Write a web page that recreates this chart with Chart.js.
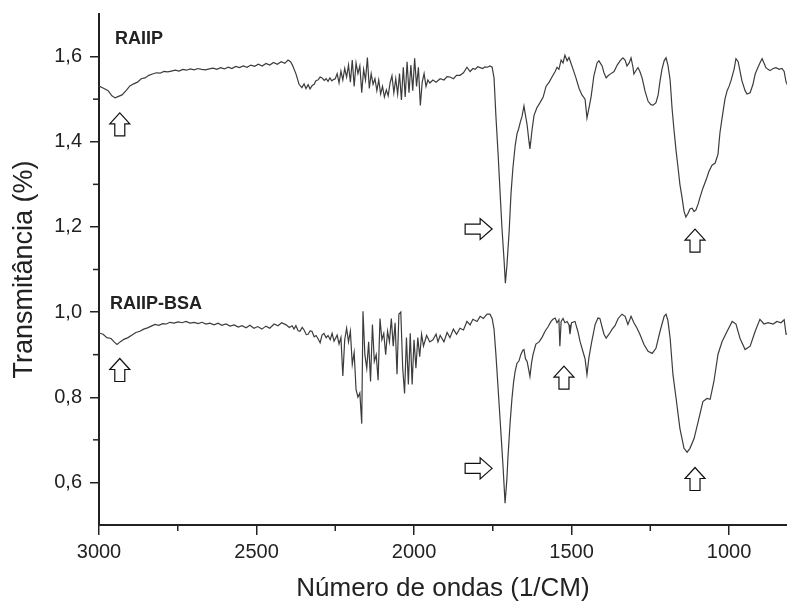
<!DOCTYPE html>
<html>
<head>
<meta charset="utf-8">
<script src="https://cdn.jsdelivr.net/npm/chart.js@4.4.1/dist/chart.umd.min.js"></script>
<style>
  html, body { margin: 0; padding: 0; background: #fff; }
  #wrap { width: 787px; height: 601px; }
</style>
</head>
<body>
<div id="wrap"><canvas id="ftirChart"></canvas></div>
<script>
// FTIR spectra, [wavenumber (1/cm), transmittance]
const raiip = [
  [3000,1.531],[2984,1.525],[2971,1.52],[2959,1.508],[2949,1.503],[2940,1.506],[2927,1.51],[2914,1.52],
  [2902,1.531],[2890,1.536],[2878,1.54],[2866,1.548],[2854,1.55],[2842,1.556],[2830,1.559],[2818,1.562],
  [2806,1.561],[2794,1.565],[2782,1.564],[2770,1.566],[2758,1.568],[2746,1.566],[2734,1.57],[2722,1.568],
  [2710,1.571],[2698,1.569],[2686,1.572],[2674,1.57],[2662,1.569],[2650,1.571],[2638,1.573],[2626,1.57],
  [2614,1.574],[2602,1.571],[2590,1.575],[2578,1.572],[2566,1.577],[2554,1.574],[2542,1.578],[2530,1.575],
  [2518,1.58],[2506,1.577],[2494,1.582],[2482,1.578],[2470,1.584],[2458,1.58],[2446,1.586],[2434,1.582],
  [2422,1.588],[2410,1.584],[2400,1.592],[2392,1.588],[2386,1.58],[2375,1.56],[2365,1.535],[2356,1.527],
  [2349,1.536],[2343,1.525],[2336,1.534],[2330,1.524],[2323,1.532],[2317,1.535],[2311,1.544],[2305,1.545],
  [2298,1.552],[2292,1.55],[2285,1.544],[2279,1.548],[2273,1.542],[2267,1.55],[2261,1.543],[2256,1.546],
  [2250,1.548],[2244,1.56],[2238,1.538],[2232,1.566],[2226,1.545],[2220,1.572],[2214,1.552],[2208,1.58],
  [2202,1.54],[2196,1.592],[2190,1.53],[2184,1.585],[2178,1.56],[2172,1.578],[2166,1.515],[2160,1.57],
  [2154,1.545],[2148,1.598],[2142,1.525],[2136,1.56],[2130,1.535],[2124,1.548],[2118,1.52],[2112,1.545],
  [2106,1.512],[2100,1.53],[2094,1.505],[2088,1.522],[2082,1.508],[2076,1.538],[2070,1.555],[2064,1.515],
  [2058,1.548],[2052,1.512],[2046,1.56],[2040,1.498],[2034,1.575],[2028,1.505],[2022,1.588],[2016,1.515],
  [2010,1.58],[2004,1.52],[1998,1.596],[1992,1.53],[1986,1.575],[1980,1.485],[1974,1.54],[1968,1.56],
  [1962,1.53],[1956,1.545],[1950,1.538],[1940,1.545],[1930,1.54],[1917,1.548],[1905,1.545],[1895,1.553],
  [1886,1.552],[1875,1.548],[1865,1.556],[1854,1.556],[1843,1.562],[1832,1.575],[1822,1.565],[1813,1.572],
  [1806,1.57],[1798,1.576],[1790,1.574],[1782,1.572],[1775,1.576],[1767,1.575],[1759,1.578],[1752,1.575],
  [1746,1.55],[1740,1.46],[1733,1.37],[1727,1.284],[1721,1.2],[1714,1.12],[1710,1.068],[1705,1.11],
  [1698,1.19],[1692,1.28],[1686,1.339],[1679,1.39],[1673,1.419],[1668,1.43],[1663,1.445],[1657,1.46],
  [1651,1.484],[1648,1.47],[1641,1.44],[1635,1.4],[1632,1.383],[1625,1.43],[1619,1.462],[1610,1.48],
  [1600,1.492],[1590,1.505],[1581,1.53],[1571,1.54],[1562,1.552],[1552,1.565],[1546,1.575],[1540,1.57],
  [1533,1.592],[1527,1.585],[1521,1.603],[1514,1.59],[1508,1.598],[1502,1.585],[1495,1.57],[1486,1.55],
  [1476,1.525],[1467,1.51],[1457,1.5],[1451,1.456],[1445,1.478],[1438,1.505],[1429,1.555],[1419,1.585],
  [1413,1.59],[1403,1.578],[1397,1.562],[1390,1.55],[1384,1.555],[1375,1.56],[1365,1.565],[1355,1.58],
  [1346,1.59],[1337,1.597],[1330,1.592],[1324,1.578],[1317,1.585],[1311,1.597],[1305,1.575],[1302,1.559],
  [1295,1.568],[1289,1.574],[1283,1.565],[1276,1.55],[1267,1.52],[1257,1.495],[1248,1.487],[1241,1.486],
  [1232,1.492],[1225,1.51],[1219,1.543],[1213,1.57],[1206,1.59],[1200,1.597],[1194,1.58],[1187,1.545],
  [1181,1.48],[1175,1.43],[1168,1.378],[1162,1.34],[1156,1.3],[1149,1.268],[1143,1.237],[1137,1.223],
  [1130,1.232],[1124,1.242],[1117,1.244],[1111,1.236],[1105,1.24],[1098,1.254],[1092,1.27],[1083,1.291],
  [1073,1.31],[1064,1.33],[1054,1.345],[1044,1.35],[1035,1.371],[1029,1.42],[1022,1.456],[1013,1.5],
  [1006,1.52],[1000,1.53],[994,1.543],[984,1.57],[978,1.595],[971,1.588],[965,1.565],[959,1.543],
  [949,1.52],[943,1.512],[933,1.515],[924,1.535],[917,1.559],[908,1.575],[902,1.585],[895,1.595],
  [889,1.585],[883,1.574],[876,1.57],[870,1.567],[860,1.572],[851,1.574],[841,1.57],[832,1.572],
  [825,1.565],[819,1.54],[812,1.53]
];

const raiipBsa = [
  [3000,0.951],[2987,0.948],[2975,0.94],[2962,0.938],[2952,0.93],[2943,0.924],[2933,0.93],[2921,0.936],
  [2908,0.94],[2895,0.946],[2883,0.952],[2870,0.955],[2858,0.96],[2846,0.963],[2834,0.967],[2822,0.971],
  [2810,0.969],[2798,0.973],[2786,0.972],[2775,0.976],[2762,0.974],[2749,0.977],[2736,0.975],[2724,0.978],
  [2711,0.974],[2698,0.976],[2685,0.973],[2673,0.976],[2660,0.972],[2648,0.974],[2635,0.97],[2622,0.974],
  [2610,0.969],[2597,0.972],[2584,0.967],[2571,0.97],[2558,0.965],[2546,0.968],[2533,0.963],[2521,0.969],
  [2508,0.962],[2496,0.966],[2483,0.96],[2470,0.967],[2458,0.962],[2444,0.972],[2432,0.968],[2420,0.975],
  [2406,0.97],[2396,0.964],[2387,0.968],[2381,0.96],[2375,0.968],[2368,0.956],[2362,0.955],[2355,0.964],
  [2349,0.958],[2342,0.947],[2336,0.948],[2330,0.956],[2324,0.955],[2317,0.942],[2311,0.945],[2305,0.938],
  [2298,0.928],[2292,0.946],[2286,0.95],[2279,0.94],[2273,0.945],[2266,0.935],[2260,0.95],[2254,0.932],
  [2248,0.94],[2244,0.946],[2238,0.925],[2232,0.94],[2226,0.85],[2220,0.935],[2214,0.962],[2208,0.93],
  [2202,0.955],[2196,0.877],[2190,0.905],[2184,0.818],[2178,0.8],[2172,0.81],[2166,0.738],[2162,1.002],
  [2156,0.9],[2150,0.868],[2144,0.93],[2138,0.837],[2132,0.971],[2126,0.884],[2120,0.9],[2114,0.84],
  [2108,0.985],[2102,0.935],[2096,0.95],[2090,0.9],[2084,0.955],[2078,0.93],[2072,0.985],[2066,0.92],
  [2060,0.975],[2054,0.854],[2048,0.995],[2042,1.0],[2036,0.87],[2030,0.809],[2024,0.94],[2018,0.83],
  [2012,0.95],[2006,0.83],[2000,0.935],[1994,0.868],[1988,0.94],[1982,0.895],[1976,0.948],[1970,0.92],
  [1960,0.945],[1950,0.93],[1940,0.935],[1930,0.948],[1924,0.93],[1917,0.945],[1905,0.93],[1895,0.952],
  [1886,0.94],[1875,0.96],[1865,0.948],[1854,0.962],[1843,0.958],[1832,0.978],[1822,0.97],[1813,0.983],
  [1800,0.978],[1790,0.99],[1780,0.985],[1768,0.995],[1759,0.995],[1752,0.985],[1746,0.96],[1740,0.9],
  [1733,0.82],[1727,0.75],[1721,0.68],[1717,0.632],[1711,0.551],[1705,0.61],[1702,0.656],[1695,0.74],
  [1689,0.798],[1684,0.835],[1679,0.861],[1673,0.88],[1667,0.885],[1661,0.9],[1655,0.91],[1651,0.912],
  [1646,0.89],[1641,0.884],[1636,0.865],[1632,0.849],[1627,0.88],[1622,0.901],[1613,0.925],[1603,0.93],
  [1594,0.94],[1584,0.955],[1575,0.965],[1565,0.978],[1559,0.983],[1552,0.986],[1546,0.975],[1540,0.982],
  [1537,0.92],[1533,0.978],[1527,0.985],[1521,0.975],[1514,0.978],[1508,0.97],[1505,0.948],[1500,0.975],
  [1489,0.978],[1480,0.955],[1473,0.931],[1464,0.908],[1457,0.89],[1451,0.853],[1445,0.892],[1436,0.93],
  [1425,0.971],[1416,0.986],[1410,0.985],[1403,0.965],[1397,0.948],[1390,0.939],[1381,0.948],[1371,0.96],
  [1362,0.968],[1352,0.985],[1340,0.995],[1330,0.99],[1321,0.971],[1311,0.99],[1302,0.975],[1292,0.962],
  [1283,0.948],[1270,0.924],[1257,0.908],[1244,0.903],[1232,0.915],[1219,0.955],[1206,0.99],[1200,0.995],
  [1194,0.98],[1187,0.939],[1178,0.853],[1168,0.797],[1156,0.727],[1143,0.68],[1133,0.671],[1124,0.68],
  [1111,0.703],[1098,0.743],[1083,0.79],[1070,0.797],[1060,0.795],[1048,0.837],[1035,0.901],[1022,0.931],
  [1006,0.955],[990,0.978],[978,0.972],[965,0.938],[949,0.912],[933,0.92],[917,0.955],[902,0.983],
  [889,0.972],[876,0.975],[860,0.972],[848,0.978],[835,0.975],[825,0.982],[819,0.948],[812,0.95]
];

const xTicks = [3000, 2500, 2000, 1500, 1000];
const xMinorTicks = [2750, 2250, 1750, 1250];
const yTicks = [0.6, 0.8, 1.0, 1.2, 1.4, 1.6];
const yMinorTicks = [0.7, 0.9, 1.1, 1.3, 1.5];

// annotations in data coordinates
const arrowMarks = [
  { dir: 'up', x: 2934, y: 1.468 },
  { dir: 'right', x: 1752, y: 1.195 },
  { dir: 'up', x: 1108, y: 1.195 },
  { dir: 'up', x: 2934, y: 0.891 },
  { dir: 'right', x: 1752, y: 0.633 },
  { dir: 'up', x: 1524, y: 0.873 },
  { dir: 'up', x: 1108, y: 0.635 }
];
const seriesLabels = [
  { text: 'RAIIP', x: 2949, y: 1.629 },
  { text: 'RAIIP-BSA', x: 2965, y: 1.007 }
];

const FONT = '"Liberation Sans", Arial, sans-serif';
const INK = '#222';

const toXY = arr => arr.map(p => ({ x: p[0], y: p[1] }));

const extras = {
  id: 'extras',
  afterDraw(chart) {
    const { ctx, scales: { x, y } } = chart;
    ctx.save();
    // minor ticks
    ctx.strokeStyle = INK;
    ctx.lineWidth = 1.5;
    xMinorTicks.forEach(v => {
      const px = x.getPixelForValue(v);
      ctx.beginPath(); ctx.moveTo(px, y.bottom); ctx.lineTo(px, y.bottom + 6); ctx.stroke();
    });
    yMinorTicks.forEach(v => {
      const py = y.getPixelForValue(v);
      ctx.beginPath(); ctx.moveTo(x.left, py); ctx.lineTo(x.left - 6, py); ctx.stroke();
    });
    // arrows
    ctx.lineWidth = 1.2;
    ctx.strokeStyle = '#111';
    ctx.fillStyle = '#fff';
    arrowMarks.forEach(a => {
      const px = x.getPixelForValue(a.x);
      const py = y.getPixelForValue(a.y);
      const pts = a.dir === 'up'
        ? [[0,0],[10,11],[5,11],[5,23],[-5,23],[-5,11],[-10,11]]
        : [[0,0],[-12,-10.5],[-12,-5],[-27,-5],[-27,5],[-12,5],[-12,10.5]];
      ctx.beginPath();
      pts.forEach((p, i) => i ? ctx.lineTo(px + p[0], py + p[1]) : ctx.moveTo(px + p[0], py + p[1]));
      ctx.closePath();
      ctx.fill();
      ctx.stroke();
    });
    // series labels
    ctx.fillStyle = INK;
    ctx.font = 'bold 18px ' + FONT;
    ctx.textAlign = 'left';
    ctx.textBaseline = 'alphabetic';
    seriesLabels.forEach(l => {
      ctx.fillText(l.text, x.getPixelForValue(l.x), y.getPixelForValue(l.y));
    });
    ctx.restore();
  }
};

const lineStyle = {
  borderColor: '#3c3c3c',
  borderWidth: 1.2,
  pointRadius: 0,
  fill: false,
  tension: 0
};

new Chart(document.getElementById('ftirChart'), {
  type: 'line',
  data: {
    datasets: [
      Object.assign({ label: 'RAIIP', data: toXY(raiip) }, lineStyle),
      Object.assign({ label: 'RAIIP-BSA', data: toXY(raiipBsa) }, lineStyle)
    ]
  },
  options: {
    responsive: true,
    maintainAspectRatio: false,
    animation: false,
    layout: { padding: { top: 14, right: 0, left: 0, bottom: 0 } },
    plugins: { legend: { display: false }, tooltip: { enabled: false } },
    scales: {
      x: {
        type: 'linear',
        reverse: true,
        min: 816,
        max: 3000,
        afterBuildTicks: s => { s.ticks = xTicks.map(v => ({ value: v })); },
        afterFit: s => { s.height = 76; s.paddingLeft = 0; s.paddingRight = 0; },
        grid: { drawOnChartArea: false, tickLength: 10, color: INK, lineWidth: 1.5 },
        border: { color: INK, width: 2 },
        ticks: {
          color: INK,
          font: { family: FONT, size: 20 },
          padding: 5,
          maxRotation: 0,
          callback: v => String(v)
        },
        title: {
          display: true,
          text: 'Número de ondas (1/CM)',
          color: INK,
          font: { family: FONT, size: 26 },
          padding: { top: 0, bottom: -3 }
        }
      },
      y: {
        min: 0.5,
        max: 1.7,
        afterBuildTicks: s => { s.ticks = yTicks.map(v => ({ value: v })); },
        afterFit: s => { s.width = 99; s.paddingTop = 0; s.paddingBottom = 0; },
        grid: { drawOnChartArea: false, tickLength: 9, color: INK, lineWidth: 1.5 },
        border: { color: INK, width: 2 },
        ticks: {
          color: INK,
          font: { family: FONT, size: 20 },
          padding: 8,
          callback: v => v.toFixed(1).replace('.', ',')
        },
        title: {
          display: true,
          text: 'Transmitância (%)',
          color: INK,
          font: { family: FONT, size: 27 },
          padding: { top: 8, bottom: 0 }
        }
      }
    }
  },
  plugins: [extras]
});
</script>
</body>
</html>
